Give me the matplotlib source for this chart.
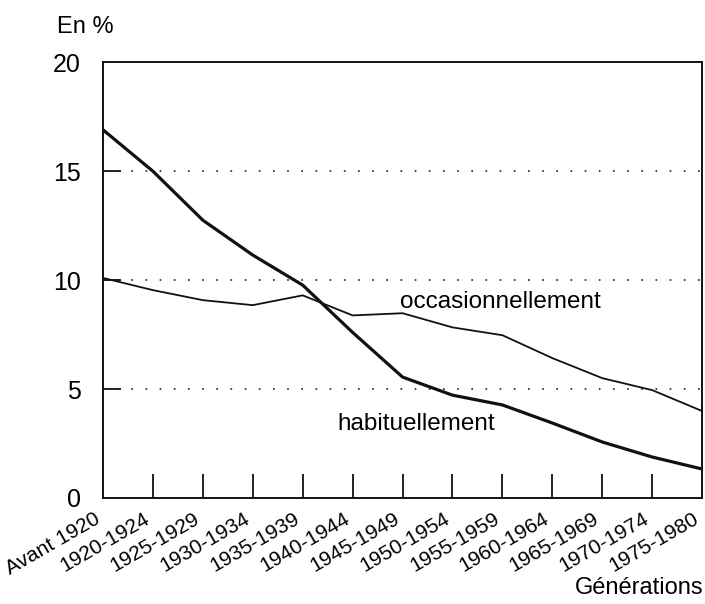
import numpy as np
import matplotlib
matplotlib.use('Agg')
import matplotlib.pyplot as plt

plt.rcParams['font.family'] = ['Liberation Sans', 'DejaVu Sans']

generations = ['Avant 1920', '1920-1924', '1925-1929', '1930-1934', '1935-1939',
               '1940-1944', '1945-1949', '1950-1954', '1955-1959', '1960-1964',
               '1965-1969', '1970-1974', '1975-1980']
habituellement = [16.9, 15.0, 12.75, 11.15, 9.77, 7.6, 5.55, 4.72, 4.27, 3.44, 2.57, 1.88, 1.33]
occasionnellement = [10.1, 9.54, 9.08, 8.85, 9.3, 8.38, 8.48, 7.83, 7.47, 6.42, 5.5, 4.95, 3.99]

fig = plt.figure(figsize=(7.05, 6.04), dpi=100)
ax = fig.add_axes([0.146, 0.1755, 0.85, 0.7215])

x = np.arange(len(generations))
ax.plot(x, habituellement, color='#111111', lw=2.3, solid_joinstyle='round')
ax.plot(x, occasionnellement, color='#111111', lw=1.3, solid_joinstyle='round')

# dotted reference lines
for yv in [5, 10, 15]:
    ax.axhline(yv, color='#222222', lw=1.2, linestyle=(0, (1, 7.5)), zorder=0)

ax.set_xlim(0, len(generations) - 1)
ax.set_ylim(0, 20)

ax.set_yticks([0, 5, 10, 15, 20])
ax.set_yticklabels(['0', '5', '10', '15', '20'], fontsize=18)
ax.set_xticks(x)
ax.set_xticklabels(generations, rotation=30, ha='right', va='top', fontsize=15)

ax.tick_params(axis='x', direction='in', length=17, width=1.3, pad=8, color='#111111')
ax.tick_params(axis='y', direction='in', length=13, width=1.3, pad=16, color='#111111')
# hide tick marks at the edges (they lie on the spines anyway)
for t in [ax.xaxis.get_major_ticks()[0], ax.xaxis.get_major_ticks()[-1]]:
    t.tick1line.set_visible(False)
for t in [ax.yaxis.get_major_ticks()[0], ax.yaxis.get_major_ticks()[-1]]:
    t.tick1line.set_visible(False)

for sp in ax.spines.values():
    sp.set_linewidth(1.4)
    sp.set_color('#111111')

ax.text(7.96, 8.7, 'occasionnellement', fontsize=17.5, ha='center', va='baseline')
ax.text(4.7, 3.1, 'habituellement', fontsize=17.5, ha='left', va='baseline')

fig.text(0.081, 0.955, 'En %', fontsize=17, ha='left', va='center')
fig.text(0.998, 0.027, 'Générations', fontsize=17, ha='right', va='center')

fig.savefig('out.png', dpi=100)
